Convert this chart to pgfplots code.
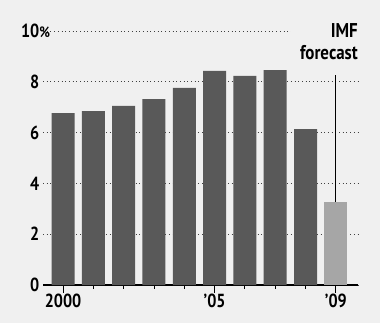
\documentclass[border=0pt]{standalone}
\usepackage{pgfplots}
\pgfplotsset{compat=1.18}
\usepackage{fontspec}
\setmainfont{PT Sans}[FakeStretch=0.85]
\definecolor{bg}{HTML}{F0F0F0}
\definecolor{barc}{HTML}{595959}
\definecolor{fcst}{HTML}{A6A6A6}
\begin{document}
\begin{tikzpicture}[x=1bp,y=1bp]
\fill[bg] (-43,-38) rectangle (337,285);
\useasboundingbox (-43,-38) rectangle (337,285);
\begin{axis}[
  at={(0,0)}, anchor=origin,
  scale only axis, width=315bp, height=254bp,
  xmin=1999.34, xmax=2009.73, ymin=0, ymax=10,
  axis x line*=bottom, axis y line*=left,
  x axis line style={black, line width=1.3pt, -},
  y axis line style={draw=none, -},
  clip=false,
  xtick={2000,...,2009},
  xticklabels={2000,,,,,’05,,,,’09},
  extra x ticks={2000,2005,2009},
  extra x tick labels={},
  extra x tick style={major tick length=8bp},
  major tick length=4bp,
  tick align=outside,
  xtick style={black, line width=0.8pt},
  x tick label style={font=\bfseries\fontsize{19}{19}\selectfont, yshift=-1bp},
  ytick={0,2,4,6,8,10},
  yticklabels={0,2,4,6,8,10\rlap{\fontsize{15}{15}\selectfont\%}},
  y tick label style={font=\bfseries\fontsize{19}{19}\selectfont, anchor=east, xshift=2bp, fill=bg, inner sep=1.5bp},
  ytick style={draw=none},
  ymajorgrids,
  grid style={black!75, line width=0.7pt, dash pattern=on 0.7bp off 3bp},
  bar width=23bp,
]
\addplot[ybar, fill=barc, draw=none] coordinates {
(2000,6.77) (2001,6.85) (2002,7.05) (2003,7.32) (2004,7.76)
(2005,8.43) (2006,8.23) (2007,8.46) (2008,6.14)};
\addplot[ybar, fill=fcst, draw=none] coordinates {(2009,3.28)};
\draw[black, line width=1pt] (axis cs:2009,8.25) -- (axis cs:2009,3.28);
\node[anchor=north east, align=right, inner xsep=9bp, inner ysep=0pt, fill=bg, font=\bfseries\fontsize{20}{22}\selectfont] at ([xshift=9bp]rel axis cs:1,1.03) {IMF\\forecast};
\end{axis}
\end{tikzpicture}
\end{document}
